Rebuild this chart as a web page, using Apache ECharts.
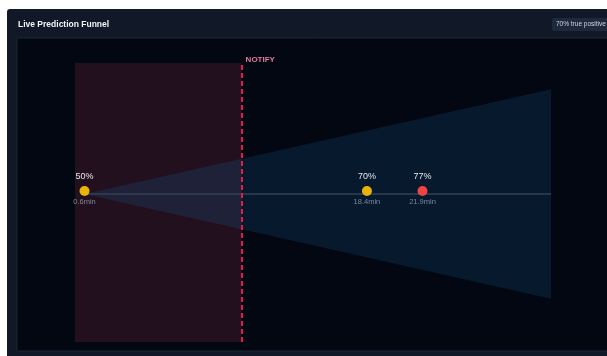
<!DOCTYPE html>
<html>
<head>
<meta charset="utf-8">
<script src="https://cdn.jsdelivr.net/npm/echarts@6/dist/echarts.min.js"></script>
<style>
  html, body { margin: 0; padding: 0; background: #ffffff; }
  #chart { width: 607px; height: 356px; }
</style>
</head>
<body>
<div id="chart"></div>
<script>
// predictions: minutes since start, probability (%)
var predTimes = [0.6, 18.4, 21.9]
var predProbs = [50, 70, 77]
var notifyAt = 10.5
// funnel: x from first prediction to horizon, half width of the cone
var funnelX = [0.6, 30]
var funnelHalf = [0, 0.8]
var xMax = 30

var alertLevel = 75
var dom = echarts.init(document.getElementById('chart'))

var dots = predTimes.map(function (t, i) {
  return {
    value: [t, 0],
    prob: predProbs[i],
    itemStyle: { color: predProbs[i] >= alertLevel ? '#ef4444' : '#eab308' }
  }
})

var option = {
  backgroundColor: '#ffffff',
  animation: false,
  graphic: [
    { type: 'rect', z: -10, shape: { x: 7, y: 9, width: 610, height: 360, r: 3 }, style: { fill: '#111827' } },
    { type: 'rect', z: -9, shape: { x: 17, y: 38, width: 600, height: 313 }, style: { fill: '#030712', stroke: '#1e2535', lineWidth: 1 } },
    { type: 'text', left: 18, top: 20, style: { text: 'Live Prediction Funnel', fill: '#f1f5f9', font: 'bold 8.5px "Liberation Sans", Arial, sans-serif' } },
    { type: 'rect', z: -8, shape: { x: 552, y: 18, width: 60, height: 13, r: 2 }, style: { fill: '#1e293b' } },
    { type: 'text', left: 556, top: 21, style: { text: '70% true positive', fill: '#cbd5e1', font: '6.5px "Liberation Sans", Arial, sans-serif' } }
  ],
  grid: { left: 75, right: 56, top: 63, bottom: 14 },
  xAxis: { type: 'value', min: 0, max: xMax, show: false },
  yAxis: { type: 'value', min: -1.13, max: 1, show: false },
  series: [
    {
      // notify zone + threshold
      type: 'line',
      data: [],
      markArea: {
        silent: true,
        itemStyle: { color: '#22101f' },
        data: [[{ xAxis: 0 }, { xAxis: notifyAt }]]
      },
      markLine: {
        silent: true,
        symbol: ['none', 'none'],
        lineStyle: { color: '#e11d48', type: [5, 3], width: 2 },
        label: {
          show: true,
          position: 'end',
          formatter: 'NOTIFY',
          color: '#e0799a',
          fontSize: 8,
          fontWeight: 'bold',
          align: 'left',
          offset: [4, 6]
        },
        data: [{ xAxis: notifyAt }]
      }
    },
    {
      type: 'custom',
      silent: true,
      data: [0],
      renderItem: function (params, api) {
        var p0 = api.coord([funnelX[0], funnelHalf[0]])
        var p1 = api.coord([funnelX[1], funnelHalf[1]])
        var p2 = api.coord([funnelX[1], -funnelHalf[1]])
        return {
          type: 'polygon',
          shape: { points: [p0, p1, p2] },
          style: { fill: 'rgba(20,105,165,0.19)' }
        }
      }
    },
    {
      type: 'line',
      silent: true,
      symbol: 'none',
      data: [[funnelX[0], 0], [funnelX[1], 0]],
      lineStyle: { color: '#334155', width: 1.5 }
    },
    {
      type: 'scatter',
      symbolSize: 10,
      symbolOffset: [0, -3],
      data: dots,
      z: 5,
      itemStyle: { opacity: 1 },
      label: {
        show: true,
        position: 'top',
        distance: 5,
        color: '#e5e7eb',
        fontSize: 9,
        fontWeight: 500,
        formatter: function (p) { return p.data.prob + '%' }
      }
    },
    {
      type: 'scatter',
      symbolSize: 10,
      symbolOffset: [0, -3],
      data: predTimes.map(function (t) { return [t, 0] }),
      itemStyle: { color: 'rgba(0,0,0,0)' },
      z: 4,
      label: {
        show: true,
        position: 'bottom',
        distance: 2,
        color: '#94a3b8',
        fontSize: 7.5,
        formatter: function (p) { return p.value[0] + 'min' }
      }
    }
  ]
}
dom.setOption(option)
</script>
</body>
</html>
